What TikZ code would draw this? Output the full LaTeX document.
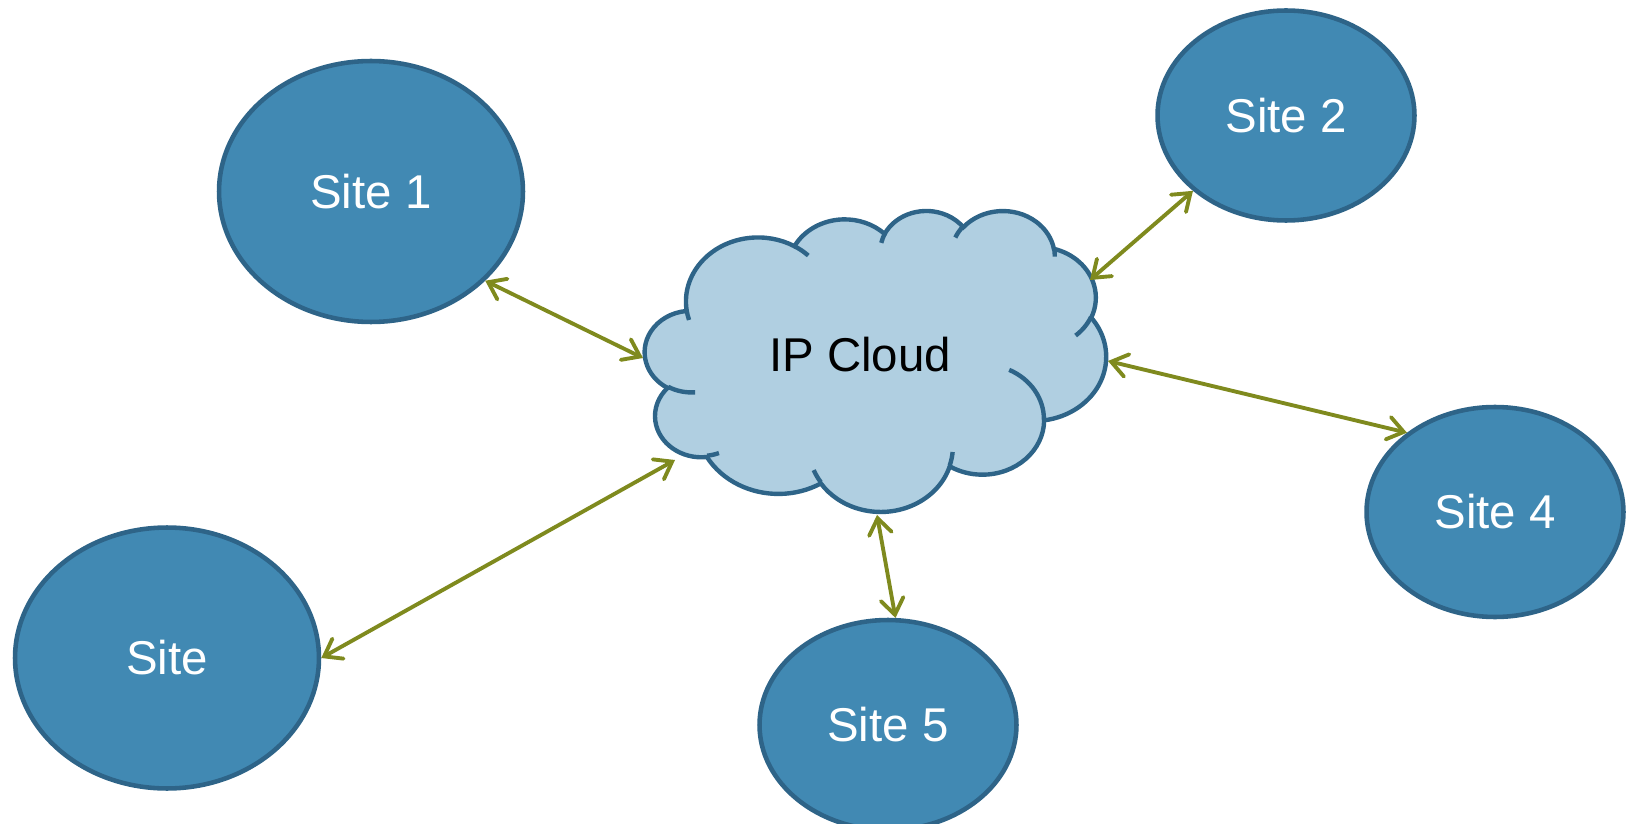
\documentclass[tikz,border=0pt]{standalone}
\usepackage{fontspec}
\setmainfont{Liberation Sans}
\usetikzlibrary{shapes.geometric,arrows.meta}

\definecolor{sitefill}{HTML}{4189B3}
\definecolor{siteline}{HTML}{2E6488}
\definecolor{cloudfill}{HTML}{B0CFE1}
\definecolor{linkgreen}{HTML}{7F8A1E}

% one puff of the cloud outline: x radius, y radius, start, sweep
\newcommand\cloudux{0.0213426cm}
\newcommand\clouduy{0.0139352cm}
\newcommand\puff[4]{arc[x radius={#1*\cloudux}, y radius={#2*\clouduy},
  start angle={-atan2(#1*sin(#3),#2*cos(#3))},
  delta angle={-mod(atan2(#1*sin(#3+#4),#2*cos(#3+#4))-atan2(#1*sin(#3),#2*cos(#3))+720,360)}]}

\begin{document}
\begin{tikzpicture}[x=0.02cm, y=-0.02cm,
    font=\fontsize{27}{32}\selectfont,
    site/.style={ellipse, draw=siteline, fill=sitefill, line width=2.6pt,
      text=white, inner sep=0pt},
    bigsite/.style={site, minimum width=6.08cm, minimum height=5.22cm},
    smallsite/.style={site, minimum width=5.14cm, minimum height=4.2cm},
    cloudbody/.style={draw=siteline, fill=cloudfill, line width=2.5pt},
    cloudcrease/.style={draw=siteline, line width=2.5pt},
    link/.style={draw=linkgreen, line width=2.2pt,
      {Straight Barb[length=9pt,width=13pt,line cap=round]}-{Straight Barb[length=9pt,width=13pt,line cap=round]}}]
  \useasboundingbox (0,0) rectangle (1630,824);

  % IP cloud
  \begin{scope}[shift={(645,210)}, x=\cloudux, y=\clouduy]
    \filldraw[cloudbody] (39.00,-143.70)
      \puff{67.53}{91.90}{-190.4875}{123.7805}
      \puff{53.33}{72.67}{-144.1024}{89.9452}
      \puff{43.65}{59.45}{-145.8079}{99.7230}
      \puff{48.57}{65.95}{-130.9861}{117.2417}
      \puff{53.33}{72.73}{-78.7089}{109.0269}
      \puff{67.75}{92.20}{-46.2673}{130.2690}
      \puff{57.85}{78.67}{0.6250}{114.0333}
      \puff{67.52}{92.15}{22.4516}{115.1726}
      \puff{77.20}{105.43}{66.2426}{75.7110}
      \puff{43.60}{59.18}{-274.9421}{146.7356}
      \puff{43.45}{59.45}{-246.8285}{152.5189} -- cycle;
    \draw[cloudcrease]
      (46.93,-261.77) \puff{43.45}{59.45}{86.7420}{26.4295}
      (69.28,-348.99) \puff{43.60}{59.18}{73.6105}{11.4475}
      (164.78,-390.90) \puff{67.52}{92.15}{137.6242}{14.0811}
      (288.27,-347.51) \puff{67.52}{92.15}{6.4533}{15.9984}
      (341.29,-229.54) \puff{57.85}{78.67}{-70.2924}{70.9174}
      (417.98,-153.54) \puff{53.33}{72.73}{30.3180}{27.7515}
      (383.24,-54.26) \puff{48.57}{65.95}{-13.7443}{14.8505}
      (290.78,-39.52) \puff{48.57}{65.95}{-149.1815}{18.1976}
      (221.41,-47.20) \puff{43.65}{59.45}{-163.4943}{17.6902}
      (140.00,-51.92) \puff{67.53}{91.90}{-66.7070}{12.3194}
      (41.27,-157.89) \puff{67.53}{91.90}{157.6544}{11.8582};
  \end{scope}
  \node (ipcloud) at (860,355) {IP Cloud};

  % where the links meet the cloud
  \coordinate (cloudW) at (643,358);
  \coordinate (cloudSW) at (675,460);
  \coordinate (cloudNE) at (1090,280);
  \coordinate (cloudE) at (1108,361);
  \coordinate (cloudS) at (877,515);

  % sites
  \node[bigsite] (site1) at (371,191.5) {Site 1};
  \node[smallsite] (site2) at (1286,115.5) {Site 2};
  \node[smallsite] (site4) at (1495,512) {Site 4};
  \node[smallsite] (site5) at (888,725) {Site 5};
  \node[bigsite] (site) at (167,658) {Site};

  % links
  \draw[link] (site1.-38) -- (cloudW);
  \draw[link] (site.0) -- (cloudSW);
  \draw[link] (cloudNE) -- (site2.219);
  \draw[link] (cloudE) -- (site4.138);
  \draw[link] (cloudS) -- (site5.86);
\end{tikzpicture}
\end{document}
